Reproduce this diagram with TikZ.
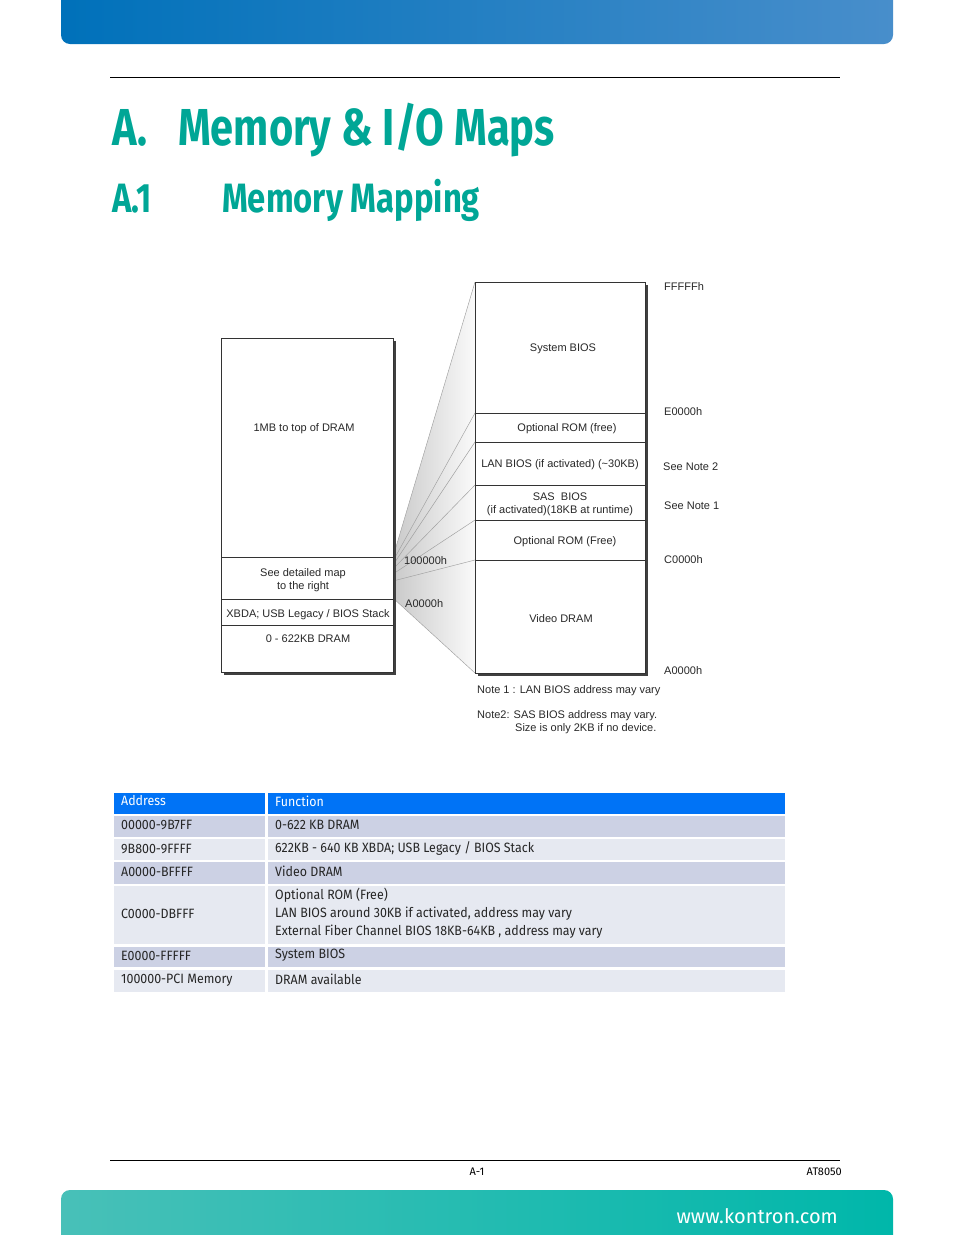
\documentclass[tikz,border=0pt]{standalone}
\usepackage{fontspec}
\setmainfont{Liberation Sans}
\newfontfamily\kfont[FakeStretch=0.92]{Fira Sans}
\newfontfamily\ktitlefont[FakeStretch=0.80]{Fira Sans}
\newfontfamily\kwebfont{Fira Sans}
\usetikzlibrary{positioning}

\definecolor{kBlue}{RGB}{0,113,186}
\definecolor{kBlueLight}{RGB}{72,142,203}
\definecolor{kTeal}{RGB}{0,166,150}
\definecolor{kTealLight}{RGB}{72,192,184}
\definecolor{kTealBand}{RGB}{0,183,170}
\definecolor{headBlue}{RGB}{0,115,246}
\definecolor{rowDark}{RGB}{204,209,228}
\definecolor{rowLight}{RGB}{230,233,241}
\definecolor{mapInk}{RGB}{40,40,40}

\begin{document}
\begin{tikzpicture}[
                x=1pt, y=-1pt,
                % Text Styles
                kTitle/.style = {font=\ktitlefont\bfseries\fontsize{52}{58}\selectfont, text=kTeal, anchor=base west, inner sep=0},
                kSubTitle/.style = {font=\ktitlefont\bfseries\fontsize{41}{46}\selectfont, text=kTeal, anchor=base west, inner sep=0},
                mapText/.style = {font=\fontsize{11}{13}\selectfont, text=mapInk, inner sep=0, align=center, yshift=-1.5pt},
                addrLabel/.style = {mapText, anchor=west},
                tabText/.style = {font=\kfont\fontsize{13.5}{18}\selectfont, text=black!85, anchor=west, inner sep=0, align=left},
                footText/.style = {font=\kwebfont\fontsize{11}{12}\selectfont, text=black, inner sep=0},
                % Box Styles
                mapBox/.style = {rectangle, draw=black!80, line width=0.8pt, fill=white, inner sep=0, outer sep=0},
                shadowBox/.style = {rectangle, fill=black!75, inner sep=0, outer sep=0},
                % Line Styles
                cellLine/.style = {draw=black!80, line width=0.8pt},
                fanLine/.style = {draw=gray!75, line width=0.45pt},
                rule/.style = {draw=black, line width=0.9pt}
            ]
                \useasboundingbox (0,0) rectangle (954,1235);

                % ==========================================
                % PAGE HEADER AND TITLES
                % ==========================================
                \shade[left color=kBlue, right color=kBlueLight]
                    (61,0) [rounded corners=9] -- (61,44) -- (893,44) [sharp corners] -- (893,0) -- cycle;
                \draw[rule] (110,77) -- (840,77);

                \node[kTitle] (ChapNum) at (112,145) {A.};
                \node[kTitle] (ChapTitle) at (178,145) {Memory \& I/O Maps};
                \node[kSubTitle] (SecNum) at (112,212) {A.1};
                \node[kSubTitle] (SecTitle) at (222,212) {Memory Mapping};

                % ==========================================
                % FAN BETWEEN THE TWO MAPS
                % ==========================================
                \node[minimum width=172pt, minimum height=334pt, inner sep=0, outer sep=0] (LeftArea) at (307,505) {};
                \node[minimum width=170pt, minimum height=391pt, inner sep=0, outer sep=0] (RightArea) at (560,477.5) {};

                \coordinate (Fan0) at (LeftArea.east |- 0,557);
                \coordinate (Fan1) at (LeftArea.east |- 0,561);
                \coordinate (Fan2) at (LeftArea.east |- 0,565);
                \coordinate (Fan3) at (LeftArea.east |- 0,569);
                \coordinate (Fan4) at (LeftArea.east |- 0,574);
                \coordinate (Fan5) at (LeftArea.east |- 0,581);
                \coordinate (Fan6) at (LeftArea.east |- 0,598);

                \coordinate (Cut0) at (RightArea.north west);
                \coordinate (Cut1) at (RightArea.west |- 0,413);
                \coordinate (Cut2) at (RightArea.west |- 0,442);
                \coordinate (Cut3) at (RightArea.west |- 0,485);
                \coordinate (Cut4) at (RightArea.west |- 0,520);
                \coordinate (Cut5) at (RightArea.west |- 0,560);
                \coordinate (Cut6) at (RightArea.south west);

                \shade[left color=gray!42, right color=gray!4]
                    (Fan0) -- (Cut0) -- (Cut6) -- (Fan6) -- cycle;
                \foreach \i in {0,...,6} {
                    \draw[fanLine] (Fan\i) -- (Cut\i);
                }

                % ==========================================
                % LEFT MAP (WHOLE MEMORY)
                % ==========================================
                \node[shadowBox, minimum width=172pt, minimum height=334pt] (LeftShadow) at (310,508) {};
                \node[mapBox, minimum width=172pt, minimum height=334pt] (LeftMap) at (307,505) {};
                \draw[cellLine] (LeftMap.west |- 0,557) -- (LeftMap.east |- 0,557);
                \draw[cellLine] (LeftMap.west |- 0,599) -- (LeftMap.east |- 0,599);
                \draw[cellLine] (LeftMap.west |- 0,625) -- (LeftMap.east |- 0,625);

                \node[mapText] (TopDram) at (304,427) {1MB to top of DRAM};
                \node[mapText] (SeeMap) at (303,578.5) {See detailed map\\to the right};
                \node[mapText] (Xbda) at (308,613) {XBDA; USB Legacy / BIOS Stack};
                \node[mapText] (LowDram) at (308,637) {0 - 622KB DRAM};

                \node[addrLabel] (Addr1M) at (404,559) {100000h};
                \node[addrLabel] (AddrA0L) at (405,602) {A0000h};

                % ==========================================
                % RIGHT MAP (A0000h - FFFFFh DETAIL)
                % ==========================================
                \node[shadowBox, minimum width=170pt, minimum height=391pt] (RightShadow) at (563,480.5) {};
                \node[mapBox, minimum width=170pt, minimum height=391pt] (RightMap) at (560,477.5) {};
                \foreach \yy in {413,442,485,520,560} {
                    \draw[cellLine] (RightMap.west |- 0,\yy) -- (RightMap.east |- 0,\yy);
                }

                \node[mapText] (SysBios) at (563,347) {System BIOS};
                \node[mapText] (OptRomA) at (567,427) {Optional ROM (free)};
                \node[mapText] (LanBios) at (560,463) {LAN BIOS (if activated) (\textasciitilde30KB)};
                \node[mapText] (SasBios) at (560,503) {SAS\ \ BIOS\\(if activated)(18KB at runtime)};
                \node[mapText] (OptRomB) at (565,540) {Optional ROM (Free)};
                \node[mapText] (VidDram) at (561,617) {Video DRAM};

                % Address labels right of the detail map
                \node[addrLabel] (AddrFF) at (664,285) {FFFFFh};
                \node[addrLabel] (AddrE0) at (664,410) {E0000h};
                \node[addrLabel] (NoteRef2) at (663,465) {See Note 2};
                \node[addrLabel] (NoteRef1) at (664,504) {See Note 1};
                \node[addrLabel] (AddrC0) at (664,558) {C0000h};
                \node[addrLabel] (AddrA0R) at (664,669) {A0000h};

                % Notes
                \node[addrLabel] (NoteOne) at (477,689) {Note 1 : LAN BIOS address may vary};
                \node[addrLabel] (NoteTwo) at (477,714) {Note2: SAS BIOS address may vary.};
                \node[addrLabel] (NoteTwoB) at (515,727) {Size is only 2KB if no device.};

                % ==========================================
                % ADDRESS TABLE
                % ==========================================
                \fill[headBlue] (114,793) rectangle (265,813.7);
                \fill[headBlue] (268,793) rectangle (785,813.7);
                \node[tabText, text=white] (HeadAddr) at (121,801) {Address};
                \node[tabText, text=white] (HeadFunc) at (275,801) {Function};

                \foreach \n/\ytop/\ybot/\shadecol/\addr/\func in {
                        1/815.7/836.7/rowDark/{00000-9B7FF}/{0-622 KB DRAM},
                        2/839/860.3/rowLight/{9B800-9FFFF}/{622KB - 640 KB XBDA; USB Legacy / BIOS Stack},
                        3/862.3/883.7/rowDark/{A0000-BFFFF}/{Video DRAM},
                        4/885.7/944/rowLight/{C0000-DBFFF}/{Optional ROM (Free)\\LAN BIOS around 30KB if activated, address may vary\\External Fiber Channel BIOS 18KB-64KB , address may vary},
                        5/946.7/967.3/rowDark/{E0000-FFFFF}/{System BIOS},
                        6/970/991.7/rowLight/{100000-PCI Memory}/{DRAM available}} {
                    \fill[\shadecol] (114,\ytop) rectangle (265,\ybot);
                    \fill[\shadecol] (268,\ytop) rectangle (785,\ybot);
                    \node[tabText] (RowAddr\n) at (121,{(\ytop+\ybot)/2-1}) {\addr};
                    \node[tabText] (RowFunc\n) at (275,{(\ytop+\ybot)/2-1.5}) {\func};
                }

                % ==========================================
                % PAGE FOOTER
                % ==========================================
                \draw[rule] (110,1160) -- (840,1160);
                \node[footText] (PageNum) at (477,1172) {A-1};
                \node[footText, anchor=east] (DocName) at (842,1172) {AT8050};

                \shade[left color=kTealLight, right color=kTealBand]
                    (61,1235) [rounded corners=9] -- (61,1190) -- (893,1190) [sharp corners] -- (893,1235) -- cycle;
                \node[font=\kwebfont\fontsize{20}{22}\selectfont, text=white, anchor=base east, inner sep=0] (WebSite) at (838,1223) {www.kontron.com};

            \end{tikzpicture}
\end{document}
